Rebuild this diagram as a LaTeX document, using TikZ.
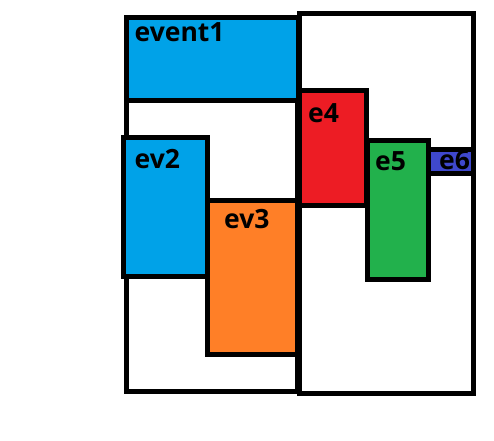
\documentclass[tikz,border=0pt]{standalone}
\usepackage{fontspec}
\setmainfont{Open Sans}
\definecolor{pblue}{HTML}{00A2E8}
\definecolor{pred}{HTML}{ED1C24}
\definecolor{pgreen}{HTML}{22B14C}
\definecolor{porange}{HTML}{FF7F27}
\definecolor{pindigo}{HTML}{3F48CC}
\begin{document}
\begin{tikzpicture}[x=1pt,y=-1pt,
  box/.style={draw=black,line width=5pt,rectangle,inner sep=0pt,outer sep=0pt,anchor=north west},
  lbl/.style={anchor=base west,inner sep=0pt,font=\fontsize{26.5}{30}\selectfont\bfseries}]
\useasboundingbox (0,0) rectangle (494,440);
\node[box,minimum width=171.5pt,minimum height=374pt] (leftbig) at (126,17) {};
\node[box,minimum width=174pt,minimum height=380.2pt] (rightbig) at (299.5,13.3) {};
\node[box,fill=pblue,minimum width=172pt,minimum height=83pt] (event1) at (126,17) {};
\node[box,fill=pblue,minimum width=84pt,minimum height=139pt] (ev2) at (123.5,137.5) {};
\node[box,fill=porange,minimum width=89.5pt,minimum height=153.2pt] (ev3) at (207.5,200.8) {};
\node[box,fill=pred,minimum width=67.5pt,minimum height=115pt] (e4) at (299,90) {};
\node[box,fill=pgreen,minimum width=61pt,minimum height=139pt] (e5) at (367.5,140) {};
\node[box,fill=pindigo,minimum width=45pt,minimum height=24.5pt] (e6) at (428.5,149) {};
\node[lbl] (event1l) at (134.5,41) {event1};
\node[lbl] (ev2l) at (134.5,168.5) {ev2};
\node[lbl] (ev3l) at (224,228.5) {ev3};
\node[lbl] (e4l) at (308,122.3) {e4};
\node[lbl] (e5l) at (375,170.7) {e5};
\begin{scope}
\clip (e6.north west) rectangle (e6.south east);
\node[lbl] (e6l) at (439,169) {e6};
\end{scope}
\draw[line width=5pt] (rightbig.north east) -- (rightbig.south east);
\end{tikzpicture}
\end{document}
